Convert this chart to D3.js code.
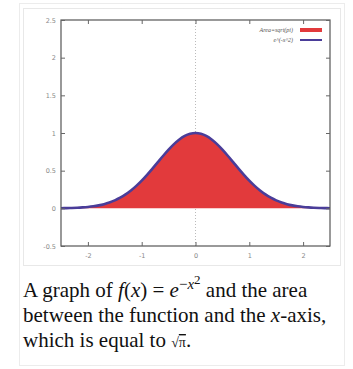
<!DOCTYPE html>
<html>
<head>
<meta charset="utf-8">
<script src="https://cdn.jsdelivr.net/npm/d3@7"></script>
<style>
  html, body { margin: 0; padding: 0; background: #fff; }
  svg { display: block; }
</style>
</head>
<body>
<svg id="chart" width="353" height="369"></svg>
<script>
// Gaussian e^(-x^2) sampled on [-2.5, 2.5]
const xValues = [-2.5,-2.4,-2.3,-2.2,-2.1,-2.0,-1.9,-1.8,-1.7,-1.6,-1.5,-1.4,-1.3,-1.2,-1.1,-1.0,-0.9,-0.8,-0.7,-0.6,-0.5,-0.4,-0.3,-0.2,-0.1,0.0,0.1,0.2,0.3,0.4,0.5,0.6,0.7,0.8,0.9,1.0,1.1,1.2,1.3,1.4,1.5,1.6,1.7,1.8,1.9,2.0,2.1,2.2,2.3,2.4,2.5];
const yValues = [0.0019,0.0032,0.0050,0.0079,0.0122,0.0183,0.0270,0.0392,0.0556,0.0773,0.1054,0.1409,0.1845,0.2369,0.2982,0.3679,0.4449,0.5273,0.6126,0.6977,0.7788,0.8521,0.9139,0.9608,0.9900,1.0000,0.9900,0.9608,0.9139,0.8521,0.7788,0.6977,0.6126,0.5273,0.4449,0.3679,0.2982,0.2369,0.1845,0.1409,0.1054,0.0773,0.0556,0.0392,0.0270,0.0183,0.0122,0.0079,0.0050,0.0032,0.0019];
const xTicks = [-2, -1, 0, 1, 2];
const xTickLabels = ["-2", "-1", "0", "1", "2"];
const yTicks = [-0.5, 0, 0.5, 1, 1.5, 2, 2.5];
const yTickLabels = ["-0.5", "0", "0.5", "1", "1.5", "2", "2.5"];
const legendLabels = ["Area=sqrt(pi)", "e^(-x^2)"];

const svg = d3.select("#chart");
const fillColor = "#e23a3c";
const lineColor = "#4a3d99";

// thumbnail frames
svg.append("rect").attr("x", 19.5).attr("y", 3.5).attr("width", 325).attr("height", 362)
  .attr("fill", "none").attr("stroke", "#d8d8d8").attr("stroke-dasharray", "1,1");
svg.append("rect").attr("x", 23.5).attr("y", 8.5).attr("width", 317).attr("height", 257)
  .attr("fill", "none").attr("stroke", "#d0d0d0").attr("stroke-dasharray", "1,1");

const plotL = 61, plotR = 330, plotT = 20, plotB = 246;
const x = d3.scaleLinear().domain([-2.5, 2.5]).range([plotL, plotR]);
const y = d3.scaleLinear().domain([-0.5, 2.5]).range([plotB, plotT]);

const data = xValues.map((v, i) => ({ x: v, y: yValues[i] }));

// zero axis
svg.append("line").attr("x1", x(0)).attr("x2", x(0)).attr("y1", plotT).attr("y2", plotB)
  .attr("stroke", "#bbb").attr("stroke-dasharray", "1,2");

// area under the curve
svg.append("path").datum(data)
  .attr("d", d3.area().x(d => x(d.x)).y0(y(0)).y1(d => y(d.y)).curve(d3.curveMonotoneX))
  .attr("fill", fillColor);

// curve
svg.append("path").datum(data)
  .attr("d", d3.line().x(d => x(d.x)).y(d => y(d.y)).curve(d3.curveMonotoneX))
  .attr("fill", "none").attr("stroke", lineColor).attr("stroke-width", 2.6);

// frame
svg.append("rect").attr("x", plotL).attr("y", plotT).attr("width", plotR - plotL).attr("height", plotB - plotT)
  .attr("fill", "none").attr("stroke", "#555").attr("stroke-width", 1.2);

// axes with mirrored inward ticks
const tickFont = "DejaVu Sans, sans-serif";
const styleAxis = g => {
  g.select(".domain").remove();
  g.selectAll(".tick line").attr("stroke", "#666");
  g.selectAll(".tick text").attr("fill", "#888").attr("font-size", 6.5).attr("font-family", tickFont);
};
svg.append("g").attr("transform", `translate(0,${plotB})`)
  .call(d3.axisBottom(x).tickValues(xTicks).tickFormat((d, i) => xTickLabels[i]).tickSizeInner(-4).tickPadding(7))
  .call(styleAxis);
svg.append("g").attr("transform", `translate(0,${plotT})`)
  .call(d3.axisTop(x).tickValues(xTicks).tickFormat("").tickSizeInner(-4))
  .call(styleAxis);
svg.append("g").attr("transform", `translate(${plotL},0)`)
  .call(d3.axisLeft(y).tickValues(yTicks).tickFormat((d, i) => yTickLabels[i]).tickSizeInner(-4).tickPadding(5))
  .call(styleAxis);
svg.append("g").attr("transform", `translate(${plotR},0)`)
  .call(d3.axisRight(y).tickValues(yTicks).tickFormat("").tickSizeInner(-4))
  .call(styleAxis);

// legend
const legend = svg.append("g");
const legendColors = [fillColor, lineColor];
legendLabels.forEach((t, i) => {
  const ly = 30 + i * 10;
  legend.append("text").attr("x", 293).attr("y", ly + 2).attr("text-anchor", "end")
    .attr("font-size", 6).attr("font-style", "italic").attr("font-family", "Liberation Serif, serif")
    .attr("fill", "#555").text(t);
  legend.append("rect").attr("x", 300).attr("y", i === 0 ? ly - 2 : ly - 1).attr("width", 22)
    .attr("height", i === 0 ? 4 : 2).attr("fill", legendColors[i]);
});

// caption
const cap = svg.append("text").attr("font-family", "Liberation Serif, Times New Roman, serif")
  .attr("font-size", 21).attr("fill", "#111");
const l1 = cap.append("tspan").attr("x", 23).attr("y", 297);
l1.append("tspan").text("A graph of ");
l1.append("tspan").attr("font-style", "italic").text("f");
l1.append("tspan").text("(");
l1.append("tspan").attr("font-style", "italic").text("x");
l1.append("tspan").text(") = ");
l1.append("tspan").attr("font-style", "italic").text("e");
l1.append("tspan").attr("font-size", 15).attr("dy", -8).text("−");
l1.append("tspan").attr("font-size", 15).attr("font-style", "italic").text("x");
l1.append("tspan").attr("font-size", 13).attr("dy", -5).text("2");
l1.append("tspan").attr("dy", 13).text(" and the area");
const l2 = cap.append("tspan").attr("x", 23).attr("y", 322);
l2.append("tspan").text("between the function and the ");
l2.append("tspan").attr("font-style", "italic").text("x");
l2.append("tspan").text("-axis,");
const l3 = cap.append("tspan").attr("x", 23).attr("y", 347);
l3.append("tspan").text("which is equal to ");
l3.append("tspan").attr("font-size", 14).text("√");
l3.append("tspan").attr("font-size", 14).attr("text-decoration", "overline").text("π");
l3.append("tspan").text(".");
</script>
</body>
</html>
